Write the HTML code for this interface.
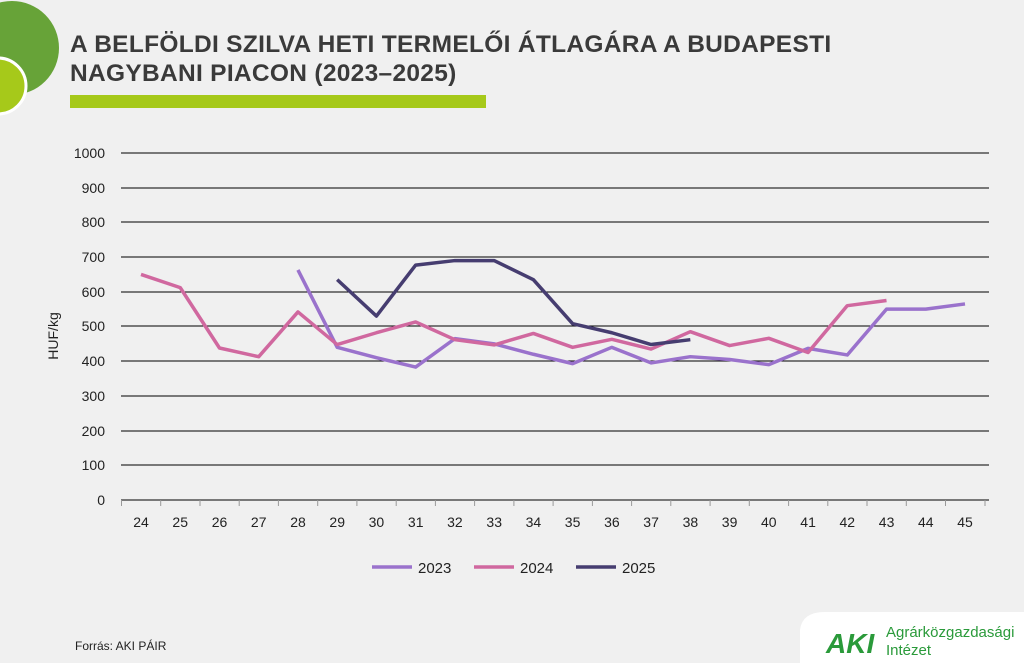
<!DOCTYPE html>
<html><head><meta charset="utf-8"><style>
body{margin:0;width:1024px;height:663px;background:#f0f0f0;overflow:hidden;position:relative;font-family:"Liberation Sans",sans-serif}
.t{position:absolute;left:70px;top:30px;font-weight:bold;font-size:24.5px;line-height:29px;color:#3a3a3a;letter-spacing:0.3px}
</style></head><body>
<svg width="1024" height="663" style="position:absolute;left:0;top:0">
<circle cx="12" cy="48" r="47" fill="#67a338"/>
<circle cx="-2" cy="86" r="28" fill="#a6c91a" stroke="#fff" stroke-width="3"/>
<rect x="70" y="95" width="416" height="13" fill="#a6c91a"/>
<g stroke="#000" stroke-width="1">
<line x1="121" x2="989" y1="153" y2="153"/><line x1="121" x2="989" y1="188" y2="188"/><line x1="121" x2="989" y1="222" y2="222"/><line x1="121" x2="989" y1="257" y2="257"/><line x1="121" x2="989" y1="292" y2="292"/><line x1="121" x2="989" y1="326" y2="326"/><line x1="121" x2="989" y1="361" y2="361"/><line x1="121" x2="989" y1="396" y2="396"/><line x1="121" x2="989" y1="431" y2="431"/><line x1="121" x2="989" y1="465" y2="465"/><line x1="121" x2="989" y1="500" y2="500"/>
</g>
<g stroke="#999" stroke-width="1">
<line x1="121.5" x2="121.5" y1="500" y2="506"/><line x1="160.7" x2="160.7" y1="500" y2="506"/><line x1="200" x2="200" y1="500" y2="506"/><line x1="239.2" x2="239.2" y1="500" y2="506"/><line x1="278.4" x2="278.4" y1="500" y2="506"/><line x1="317.7" x2="317.7" y1="500" y2="506"/><line x1="356.9" x2="356.9" y1="500" y2="506"/><line x1="396.2" x2="396.2" y1="500" y2="506"/><line x1="435.4" x2="435.4" y1="500" y2="506"/><line x1="474.6" x2="474.6" y1="500" y2="506"/><line x1="513.9" x2="513.9" y1="500" y2="506"/><line x1="553.1" x2="553.1" y1="500" y2="506"/><line x1="592.4" x2="592.4" y1="500" y2="506"/><line x1="631.6" x2="631.6" y1="500" y2="506"/><line x1="670.8" x2="670.8" y1="500" y2="506"/><line x1="710.1" x2="710.1" y1="500" y2="506"/><line x1="749.3" x2="749.3" y1="500" y2="506"/><line x1="788.6" x2="788.6" y1="500" y2="506"/><line x1="827.8" x2="827.8" y1="500" y2="506"/><line x1="867" x2="867" y1="500" y2="506"/><line x1="906.3" x2="906.3" y1="500" y2="506"/><line x1="945.5" x2="945.5" y1="500" y2="506"/><line x1="985" x2="985" y1="500" y2="506"/>
</g>
<g font-size="14" fill="#222" text-anchor="end" font-family="Liberation Sans,sans-serif">
<text x="105" y="158">1000</text><text x="105" y="193">900</text><text x="105" y="227">800</text><text x="105" y="262">700</text><text x="105" y="297">600</text><text x="105" y="331">500</text><text x="105" y="366">400</text><text x="105" y="401">300</text><text x="105" y="436">200</text><text x="105" y="470">100</text><text x="105" y="505">0</text>
</g>
<g font-size="14" fill="#222" text-anchor="middle" font-family="Liberation Sans,sans-serif">
<text x="141" y="527">24</text><text x="180.2" y="527">25</text><text x="219.5" y="527">26</text><text x="258.7" y="527">27</text><text x="298" y="527">28</text><text x="337.2" y="527">29</text><text x="376.4" y="527">30</text><text x="415.7" y="527">31</text><text x="454.9" y="527">32</text><text x="494.2" y="527">33</text><text x="533.4" y="527">34</text><text x="572.6" y="527">35</text><text x="611.9" y="527">36</text><text x="651.1" y="527">37</text><text x="690.4" y="527">38</text><text x="729.6" y="527">39</text><text x="768.8" y="527">40</text><text x="808.1" y="527">41</text><text x="847.3" y="527">42</text><text x="886.6" y="527">43</text><text x="925.8" y="527">44</text><text x="965" y="527">45</text>
</g>
<text transform="translate(58,336) rotate(-90)" font-size="14" fill="#222" text-anchor="middle" font-family="Liberation Sans,sans-serif">HUF/kg</text>
<g transform="translate(141,500) scale(39.238,-0.347)" fill="none" stroke-width="3.5" stroke-linejoin="round">
<polyline vector-effect="non-scaling-stroke" stroke="#9a72cc" points="4,663 5,440 6,410 7,383 8,465 9,450 10,420 11,393 12,440 13,395 14,413 15,405 16,390 17,437 18,418 19,550 20,550 21,565"/>
<polyline vector-effect="non-scaling-stroke" stroke="#d0689f" points="0,650 1,612 2,438 3,413 4,542 5,448 6,482 7,513 8,462 9,447 10,480 11,440 12,463 13,435 14,485 15,445 16,466 17,425 18,560 19,575"/>
<polyline vector-effect="non-scaling-stroke" stroke="#463d70" points="5,635 6,530 7,677 8,690 9,690 10,635 11,508 12,482 13,448 14,462"/>
</g>
<g font-size="15" fill="#222" font-family="Liberation Sans,sans-serif">
<line x1="372" x2="412" y1="567" y2="567" stroke="#9a72cc" stroke-width="3.5"/><text x="418" y="573">2023</text>
<line x1="474" x2="514" y1="567" y2="567" stroke="#d0689f" stroke-width="3.5"/><text x="520" y="573">2024</text>
<line x1="576" x2="616" y1="567" y2="567" stroke="#463d70" stroke-width="3.5"/><text x="622" y="573">2025</text>
</g>
<text x="75" y="650" font-size="12" fill="#222" font-family="Liberation Sans,sans-serif">Forrás: AKI PÁIR</text>
<path d="M800,663 L800,630 Q802,612 825,612 L1024,612 L1024,663 Z" fill="#fff"/>
<text x="826" y="653" font-size="28" font-weight="bold" fill="#2a9a3a" font-family="Liberation Sans,sans-serif" font-style="italic">AKI</text>
<text x="886" y="637" font-size="15" fill="#2a9a3a" font-family="Liberation Sans,sans-serif">Agrárközgazdasági</text>
<text x="886" y="655" font-size="15" fill="#2a9a3a" font-family="Liberation Sans,sans-serif">Intézet</text>
</svg>
<div class="t">A BELFÖLDI SZILVA HETI TERMELŐI ÁTLAGÁRA A BUDAPESTI<br>NAGYBANI PIACON (2023–2025)</div>
</body></html>
